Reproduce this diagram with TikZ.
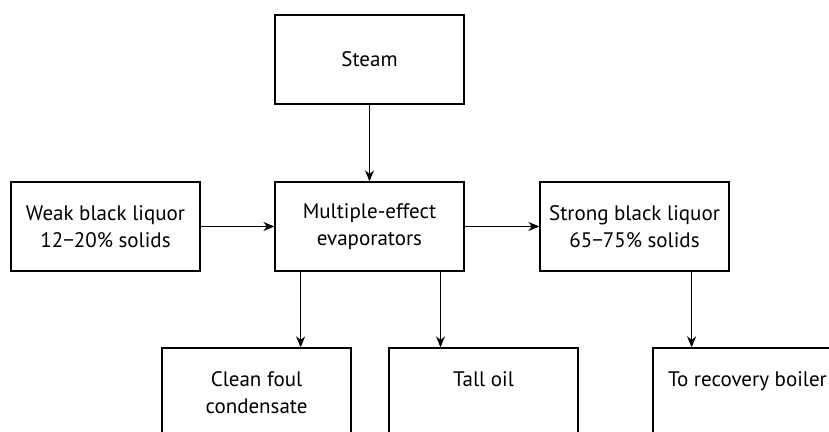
\documentclass[tikz,border=0pt]{standalone}
\usepackage{fontspec}
\setmainfont{PT Sans}
\usetikzlibrary{arrows.meta,calc}
\begin{document}
\begin{tikzpicture}[x=0.5pt,y=-0.5pt,
  box/.style={draw,line width=0.65pt,minimum width=94.5pt,minimum height=44.5pt,inner sep=0pt,align=center,font=\fontsize{10.5}{13.5}\selectfont},
  flow/.style={line width=0.65pt,-{Stealth[length=5.5pt,width=4.5pt]}}]
\useasboundingbox (0,0) rectangle (829,432);
\clip (0,0) rectangle (829,432);
\node[box] (steam) at (369.5,59.5) {Steam};
\node[box] (mee) at (369.5,226.5) {Multiple-effect\\evaporators};
\node[box] (weak) at (105.5,226.5) {Weak black liquor\\12\textminus20\% solids};
\node[box] (strong) at (634.5,226.5) {Strong black liquor\\65\textminus75\% solids};
\node[box] (clean) at (256.5,392.5) {Clean foul\\condensate};
\node[box] (tall) at (483.5,392.5) {Tall oil\\\mbox{}};
\node[box] (boiler) at (747.5,392.5) {To recovery boiler\\\mbox{}};
\draw[flow] (steam) -- (mee);
\draw[flow] (weak) -- (mee);
\draw[flow] (mee) -- (strong);
\coordinate (m1) at ($(mee.south west)!0.138!(mee.south east)$);
\coordinate (m2) at ($(mee.south west)!0.873!(mee.south east)$);
\coordinate (s1) at ($(strong.south west)!0.8!(strong.south east)$);
\draw[flow] (m1) -- (m1 |- clean.north);
\draw[flow] (m2) -- (m2 |- tall.north);
\draw[flow] (s1) -- (s1 |- boiler.north);
\end{tikzpicture}
\end{document}
